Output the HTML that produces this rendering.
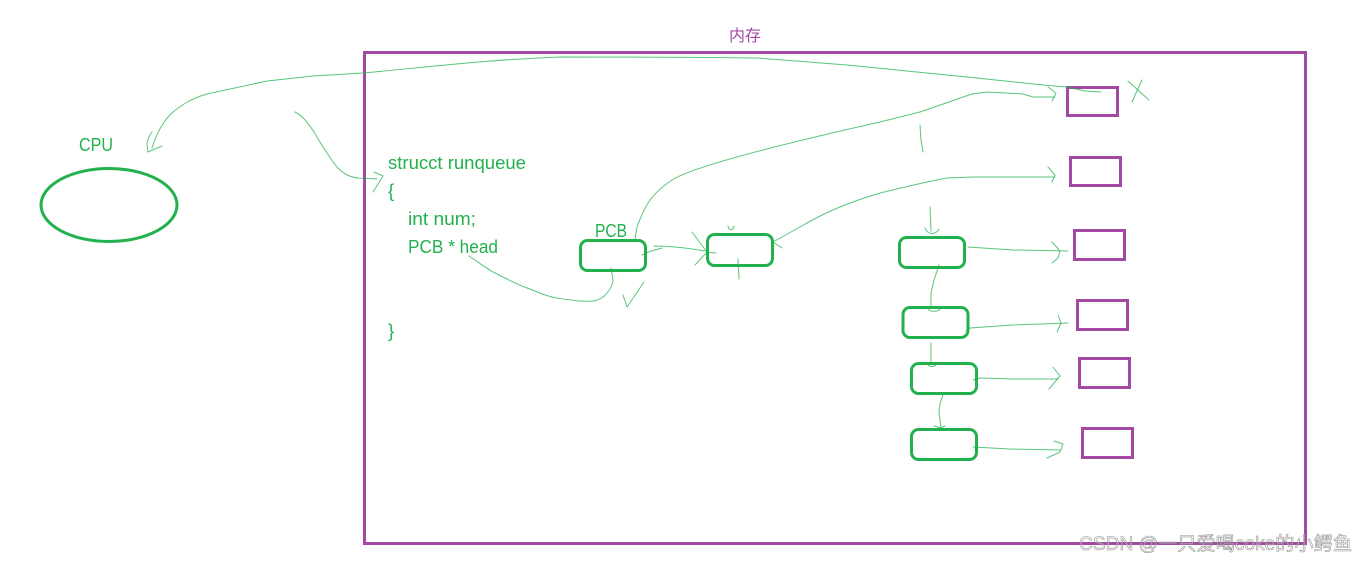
<!DOCTYPE html>
<html><head><meta charset="utf-8"><style>
html,body{margin:0;padding:0;background:#fff;width:1368px;height:562px;overflow:hidden}
svg{display:block}
text{font-family:"Liberation Sans","Noto Sans CJK SC",sans-serif}
.g{fill:#22b14c;font-size:18.5px}
.t{fill:none;stroke:#22b14c;stroke-width:1;opacity:.75;stroke-linecap:round;stroke-linejoin:round}
.b{fill:none;stroke:#22b14c;stroke-width:3}
.p{fill:none;stroke:#a349a4;stroke-width:3}
</style></head><body>
<svg width="1368" height="562" viewBox="0 0 1368 562" xmlns="http://www.w3.org/2000/svg">
<rect x="364.5" y="52.5" width="941" height="491" fill="none" stroke="#a349a4" stroke-width="3"/>
<text x="729" y="41" style="font-size:16px;fill:#a349a4">内存</text>
<ellipse cx="109" cy="205" rx="68" ry="36.5" class="b"/>
<text x="79" y="151" class="g" textLength="34" lengthAdjust="spacingAndGlyphs">CPU</text>
<text x="388" y="169" class="g" textLength="138" lengthAdjust="spacingAndGlyphs">strucct runqueue</text>
<text x="388" y="197" class="g">{</text>
<text x="408" y="225" class="g" textLength="68" lengthAdjust="spacingAndGlyphs">int num;</text>
<text x="408" y="253" class="g" textLength="90" lengthAdjust="spacingAndGlyphs">PCB * head</text>
<text x="388" y="337" class="g">}</text>
<text x="595" y="237" class="g" textLength="32" lengthAdjust="spacingAndGlyphs">PCB</text>
<rect x="1067.5" y="87.5" width="50" height="28" class="p"/>
<rect x="1070.5" y="157.5" width="50" height="28" class="p"/>
<rect x="1074.5" y="230.5" width="50" height="29" class="p"/>
<rect x="1077.5" y="300.5" width="50" height="29" class="p"/>
<rect x="1079.5" y="358.5" width="50" height="29" class="p"/>
<rect x="1082.5" y="428.5" width="50" height="29" class="p"/>
<rect x="580.5" y="240.5" width="65" height="30" rx="7" class="b"/>
<rect x="707.5" y="234.5" width="65" height="31" rx="7" class="b"/>
<rect x="899.5" y="237.5" width="65" height="30" rx="7" class="b"/>
<rect x="903" y="307.5" width="65" height="30" rx="7" class="b"/>
<rect x="911.5" y="363.5" width="65" height="30" rx="7" class="b"/>
<rect x="911.5" y="429.5" width="65" height="30" rx="7" class="b"/>
<path class="t" d="M1101 92 L1085 91 L1067 87 L1043 85 L967 77 L847 65 L757 58 C700 57 620 57 560 57 C480 60 420 68 363 73 L313 76 L267 81 L207 94 C190 99 182 105 173 112 C162 122 156 135 152 148"/>
<path class="t" d="M152 132 C149 136 147 141 147 145 L148 152 L162 146"/>
<path class="t" d="M295 112 C303 116 308 123 314 132 C320 142 326 153 337 167 C345 175 350 177 358 178 L377 179"/>
<path class="t" d="M374 172 L383 176 L373 192"/>
<path class="t" d="M469 256 C478 262 486 268 493 272 C505 278 516 284 527 288 C538 292 548 297 557 298 C570 300 582 302 593 301 C600 300 604 297 607 293 C611 288 613 284 613 280 L611 268"/>
<path class="t" d="M623 295 L627 307 L644 282"/>
<path class="t" d="M635 239 L637 227 C641 216 645 207 650 200 C656 192 663 186 672 180 C695 165 800 140 880 122 L920 112 L972 94 L987 92 L1023 94 L1033 97 L1055 97"/>
<path class="t" d="M1048 87 L1056 93 L1052 101"/>
<path class="t" d="M920 125 L921 140 L923 152"/>
<path class="t" d="M773 242 L800 227 C825 212 850 202 880 193 C905 187 925 182 947 178 L973 177 L1055 177"/>
<path class="t" d="M1048 167 L1055 175 L1052 182"/>
<path class="t" d="M773 242 L782 248"/>
<path class="t" d="M642 255 L648 252 L662 248"/>
<path class="t" d="M654 246 C670 246 688 248 705 251"/>
<path class="t" d="M692 232 L707 252 L695 265"/>
<path class="t" d="M707 252 L716 253"/>
<path class="t" d="M738 259 L739 279"/>
<path class="t" d="M728 226 C729 231 733 231 734 226"/>
<path class="t" d="M930 207 L931 231"/>
<path class="t" d="M925 228 C927 234 935 236 939 229"/>
<path class="t" d="M939 265 L934 280 L931 293 L931 306"/>
<path class="t" d="M928 309 C930 312 938 312 940 309"/>
<path class="t" d="M931 343 L931 362"/>
<path class="t" d="M928 365 C930 367 934 367 936 365"/>
<path class="t" d="M943 395 C940 402 939 407 939 413 L941 427"/>
<path class="t" d="M934 426 L941 428 L945 426"/>
<path class="t" d="M968 247 L1013 250 L1068 251"/>
<path class="t" d="M1052 242 L1060 251 L1058 258 L1052 263"/>
<path class="t" d="M966 331 L970 328 L1013 325 L1068 323"/>
<path class="t" d="M1058 315 L1061 323 L1057 332"/>
<path class="t" d="M973 380 L980 378 L1013 379 L1058 379"/>
<path class="t" d="M1053 367 L1060 376 L1049 389"/>
<path class="t" d="M973 447 L1010 449 L1060 450"/>
<path class="t" d="M1054 441 L1063 444 L1060 452 L1047 458"/>
<path class="t" d="M1128 81 L1149 100"/>
<path class="t" d="M1142 80 L1132 102"/>
<text x="1079" y="550" textLength="273" lengthAdjust="spacingAndGlyphs" style="font-size:19px;fill:#fff;fill-opacity:.35;stroke:#888;stroke-width:.6;opacity:.9">CSDN @一只爱喝coke的小鳄鱼</text>
</svg>
</body></html>
